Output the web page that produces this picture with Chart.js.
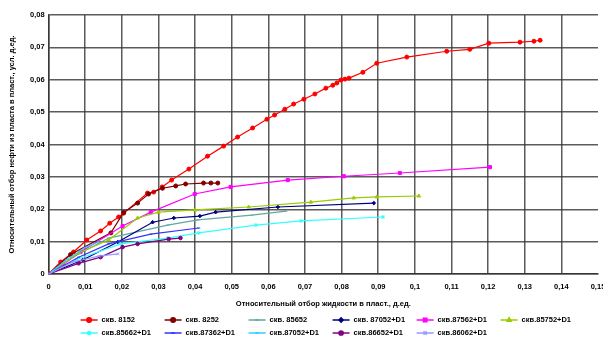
<!DOCTYPE html>
<html>
<head>
<meta charset="utf-8">
<script src="https://cdn.jsdelivr.net/npm/chart.js@4.4.1/dist/chart.umd.min.js"></script>
<style>
  html, body { margin: 0; padding: 0; background: #fff; }
  #wrap { width: 603px; height: 338px; }
</style>
</head>
<body>
<div id="wrap"><canvas id="chart" width="603" height="338"></canvas></div>
<script>
// Ось X: относительный отбор жидкости, ось Y: относительный отбор нефти
const xTicks = [0, 0.01, 0.02, 0.03, 0.04, 0.05, 0.06, 0.07, 0.08, 0.09, 0.1, 0.11, 0.12, 0.13, 0.14, 0.15];
const yTicks = [0, 0.01, 0.02, 0.03, 0.04, 0.05, 0.06, 0.07, 0.08];

const labels = ['скв. 8152', 'скв. 8252', 'скв. 85652', 'скв. 87052+D1', 'скв.87562+D1', 'скв.85752+D1',
                'скв.85662+D1', 'скв.87362+D1', 'скв.87052+D1', 'скв.86652+D1', 'скв.86062+D1'];

const s8152X = [0, 0.0033, 0.0068, 0.0104, 0.0142, 0.0167, 0.0191, 0.0205, 0.027, 0.0287, 0.031, 0.0336, 0.0383, 0.0434,
                0.0478, 0.0516, 0.0557, 0.0596, 0.0617, 0.0645, 0.0669, 0.0697, 0.0727, 0.0757, 0.0776, 0.0787, 0.0798,
                0.0809, 0.082, 0.0858, 0.0896, 0.0978, 0.1087, 0.115, 0.1202, 0.1287, 0.1325, 0.1342];
const s8152Y = [0, 0.0037, 0.0068, 0.0105, 0.0133, 0.0157, 0.0176, 0.0188, 0.025, 0.0253, 0.0269, 0.029, 0.0324, 0.0364,
                0.0395, 0.0423, 0.0451, 0.0478, 0.0491, 0.0509, 0.0525, 0.054, 0.0556, 0.0574, 0.0583, 0.059, 0.0599,
                0.0602, 0.0605, 0.0623, 0.0651, 0.067, 0.0688, 0.0694, 0.0713, 0.0716, 0.0719, 0.0722];

const s8252X = [0, 0.006, 0.017, 0.0205, 0.0243, 0.0273, 0.0311, 0.0347, 0.0374, 0.0423, 0.0443, 0.0462];
const s8252Y = [0, 0.006, 0.0127, 0.019, 0.0219, 0.0247, 0.0265, 0.0272, 0.0278, 0.0281, 0.0281, 0.0281];

const s85652X = [0, 0.0066, 0.0164, 0.0325, 0.0407, 0.0555, 0.0648];
const s85652Y = [0, 0.0052, 0.0111, 0.0151, 0.0167, 0.0182, 0.0194];

const s87052X = [0, 0.0093, 0.0189, 0.0284, 0.0342, 0.0413, 0.0456, 0.0626, 0.0888];
const s87052Y = [0, 0.0043, 0.0099, 0.016, 0.0173, 0.0179, 0.0191, 0.0207, 0.0219];

const s87562X = [0, 0.004, 0.0087, 0.0202, 0.0279, 0.0399, 0.0497, 0.0653, 0.0806, 0.0959, 0.1205];
const s87562Y = [0, 0.003, 0.0068, 0.0148, 0.0191, 0.0247, 0.0269, 0.029, 0.0302, 0.0312, 0.033];

const s85752X = [0, 0.0082, 0.0164, 0.0243, 0.03, 0.04, 0.0546, 0.0716, 0.0833, 0.0896, 0.1011];
const s85752Y = [0, 0.0065, 0.0105, 0.0173, 0.0191, 0.0198, 0.0207, 0.0222, 0.0235, 0.0238, 0.0241];

const s85662X = [0, 0.0077, 0.0197, 0.0325, 0.041, 0.0566, 0.0689, 0.0913];
const s85662Y = [0, 0.0045, 0.0093, 0.0111, 0.0127, 0.0151, 0.0164, 0.0176];

const s87362X = [0, 0.0082, 0.0164, 0.0279, 0.041];
const s87362Y = [0, 0.0052, 0.0093, 0.0123, 0.0142];

const s87052bX = [0, 0.005, 0.01, 0.0137];
const s87052bY = [0, 0.0045, 0.0082, 0.0099];

const s86652X = [0, 0.0082, 0.0142, 0.0202, 0.0243, 0.0328, 0.036];
const s86652Y = [0, 0.0033, 0.0052, 0.0083, 0.0093, 0.0108, 0.0111];

const s86062X = [0, 0.0066, 0.0137, 0.0189];
const s86062Y = [0, 0.0037, 0.0055, 0.0062];

const seriesX = [s8152X, s8252X, s85652X, s87052X, s87562X, s85752X, s85662X, s87362X, s87052bX, s86652X, s86062X];
const seriesY = [s8152Y, s8252Y, s85652Y, s87052Y, s87562Y, s85752Y, s85662Y, s87362Y, s87052bY, s86652Y, s86062Y];

const colors = ['#ff0000', '#800000', '#5fa8a0', '#000080', '#ff00ff', '#99cc00',
                '#33ffff', '#3333ff', '#33ccff', '#800080', '#9999ff'];
const markers = ['circle', 'circle', 'line', 'rectRot', 'rect', 'triangle', 'star', 'line', 'line', 'circle', 'crossRot'];
const radii = [2, 2, 1.5, 1.8, 2.2, 2, 2, 1.5, 1.5, 1.8, 2];

const FONT = { family: 'Liberation Sans', size: 7.5, weight: 'bold' };

const fmt = v => {
    const r = Math.round(v * 100) / 100;
    return r === 0 ? '0' : String(r).replace('.', ',');
};

const datasets = labels.map((name, i) => ({
    label: name,
    data: seriesX[i].map((x, j) => ({ x: x, y: seriesY[i][j] })),
    showLine: true,
    borderColor: colors[i],
    backgroundColor: colors[i],
    borderWidth: 1.2,
    pointStyle: markers[i],
    pointRadius: radii[i],
    pointBorderWidth: 1,
    order: labels.length - i,
}));

// легенда в колонках, как в Excel
const columnLegend = {
    id: 'columnLegend',
    afterDraw(chart) {
        const ctx = chart.ctx;
        const colW = 84, perRow = 6;
        const x0 = chart.chartArea.left + 32, y0 = 320, rowH = 13;
        ctx.save();
        ctx.font = 'bold 7.5px "Liberation Sans"';
        ctx.textBaseline = 'middle';
        labels.forEach((name, i) => {
            const x = x0 + (i % perRow) * colW;
            const y = y0 + Math.floor(i / perRow) * rowH;
            ctx.strokeStyle = colors[i];
            ctx.lineWidth = 1.5;
            ctx.beginPath(); ctx.moveTo(x, y); ctx.lineTo(x + 17, y); ctx.stroke();
            ctx.fillStyle = colors[i];
            Chart.helpers.drawPoint(ctx, { pointStyle: markers[i], radius: radii[i] + 0.3, borderWidth: 1, rotation: 0 }, x + 8.5, y);
            ctx.fillStyle = '#000';
            ctx.fillText(name, x + 21, y);
        });
        ctx.restore();
    }
};

new Chart(document.getElementById('chart'), {
    type: 'scatter',
    data: { datasets: datasets },
    plugins: [columnLegend],
    options: {
        responsive: false,
        animation: false,
        layout: { padding: { top: 15, right: 0, left: 7, bottom: 28 } },
        scales: {
            x: {
                type: 'linear',
                min: 0, max: 0.15,
                afterBuildTicks: axis => { axis.ticks = xTicks.map(v => ({ value: v })); },
                afterFit: axis => { axis.paddingRight = 5; },
                ticks: {
                    callback: v => fmt(v),
                    font: FONT,
                    color: '#000',
                    maxRotation: 0,
                    padding: 8,
                },
                grid: {
                    color: ctx => (ctx.tick && ctx.tick.value >= 0.149 ? 'rgba(0,0,0,0)' : 'rgba(50,50,50,0.8)'),
                    lineWidth: 1.5,
                    drawTicks: false,
                },
                border: { color: 'rgba(50,50,50,0.9)', width: 1.5 },
                title: {
                    display: true,
                    text: 'Относительный отбор жидкости в пласт., д.ед.',
                    font: FONT,
                    color: '#000',
                    padding: { top: 0, bottom: 2 },
                },
            },
            y: {
                type: 'linear',
                min: 0, max: 0.08,
                afterBuildTicks: axis => { axis.ticks = yTicks.map(v => ({ value: v })); },
                ticks: {
                    callback: v => fmt(v),
                    font: FONT,
                    color: '#000',
                    padding: 4,
                },
                grid: {
                    color: 'rgba(50,50,50,0.8)',
                    lineWidth: 1.5,
                    drawTicks: false,
                },
                border: { color: 'rgba(50,50,50,0.9)', width: 1.5 },
                title: {
                    display: true,
                    text: 'Относительный отбор нефти из пласта в пласт., усл. д.ед.',
                    font: FONT,
                    color: '#000',
                    padding: { top: 0, bottom: 10 },
                },
            },
        },
        plugins: {
            legend: { display: false },
            tooltip: { enabled: false },
        },
    },
});
</script>
</body>
</html>
